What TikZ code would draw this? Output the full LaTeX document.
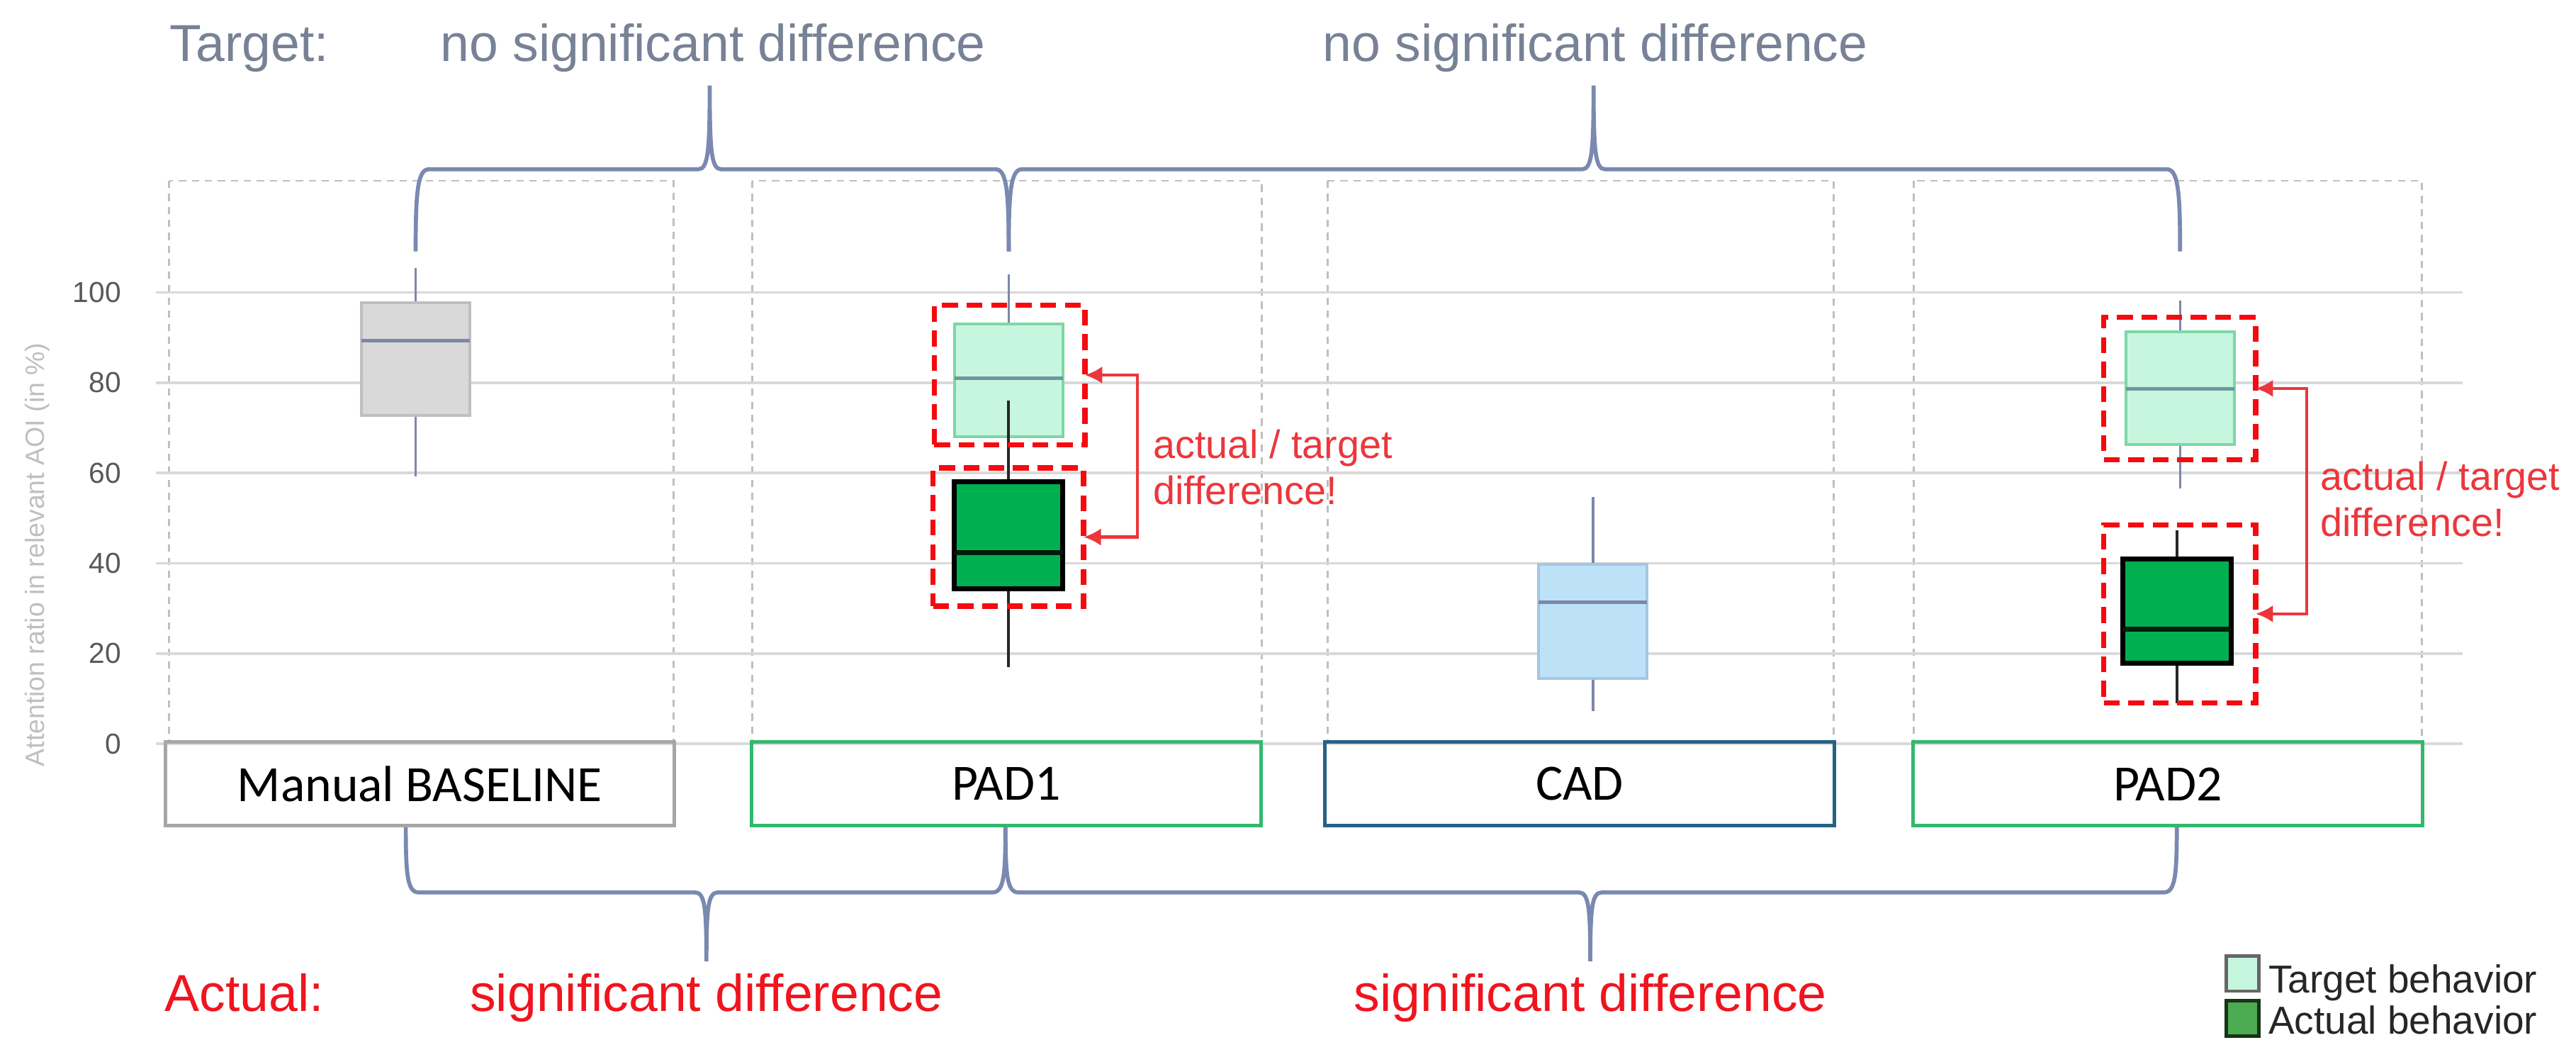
\documentclass[tikz,border=0pt]{standalone}
\usepackage{fontspec}
\setmainfont{Liberation Sans}
\newfontfamily\calibfont{Carlito}
\usetikzlibrary{arrows.meta,positioning}

\definecolor{gridc}{RGB}{217,217,217}
\definecolor{framec}{RGB}{191,191,191}
\definecolor{bracec}{RGB}{122,137,176}
\definecolor{txtc}{RGB}{120,130,150}
\definecolor{sigred}{RGB}{240,20,30}
\definecolor{annred}{RGB}{235,55,60}
\definecolor{dashred}{RGB}{245,10,15}
\definecolor{wskc}{RGB}{125,135,170}
\definecolor{manfill}{RGB}{217,217,217}
\definecolor{mandraw}{RGB}{191,191,191}
\definecolor{tgtfill}{RGB}{198,246,222}
\definecolor{tgtdraw}{RGB}{125,215,165}
\definecolor{tgtmedc}{RGB}{110,150,160}
\definecolor{actfill}{RGB}{0,176,80}
\definecolor{cadfill}{RGB}{189,226,248}
\definecolor{caddraw}{RGB}{165,198,226}
\definecolor{mancat}{RGB}{166,166,166}
\definecolor{padcat}{RGB}{50,185,110}
\definecolor{cadcat}{RGB}{38,98,135}
\definecolor{legact}{RGB}{76,170,80}

\tikzset{
  gridl/.style={draw=gridc,line width=0.9pt},
  colframe/.style={draw=framec,line width=0.7pt,dash pattern=on 2.5pt off 2pt},
  bracel/.style={draw=bracec,line width=1.4pt},
  manbox/.style={fill=manfill,draw=mandraw,line width=1pt},
  manmed/.style={draw=wskc,line width=1.2pt},
  manwsk/.style={draw=wskc,line width=0.9pt},
  tgtbox/.style={fill=tgtfill,draw=tgtdraw,line width=1pt},
  tgtmed/.style={draw=tgtmedc,line width=1.2pt},
  tgtwsk/.style={draw=wskc,line width=0.9pt},
  actbox/.style={fill=actfill,draw=black,line width=1.7pt},
  actmed/.style={draw=black!85!actfill,line width=1.7pt},
  actwsk/.style={draw=black!85,line width=1pt},
  cadbox/.style={fill=cadfill,draw=caddraw,line width=1pt},
  cadmed/.style={draw=wskc,line width=1.2pt},
  cadwsk/.style={draw=wskc,line width=0.9pt},
  diffbox/.style={draw=dashred,line width=1.8pt,dash pattern=on 5.5pt off 3pt,
    inner sep=0pt,outer sep=0pt},
  diffarr/.style={draw=annred,line width=1pt,
    {Latex[length=6pt,width=6pt]}-{Latex[length=6pt,width=6pt]}},
  anntxt/.style={text=annred,font=\fontsize{13.7}{16}\selectfont,inner sep=0pt,align=left},
  catbox/.style={draw,line width=1.2pt,minimum width=6.2cm,minimum height=1.02cm,
    inner sep=0pt,font=\calibfont\fontsize{17.6}{20}\selectfont},
  bigtxt/.style={font=\fontsize{18}{21}\selectfont,inner sep=0pt},
  ticklab/.style={text=black!65,font=\fontsize{10}{12}\selectfont,inner sep=0pt,anchor=east},
  legsq/.style={line width=1.2pt,minimum width=0.4cm,minimum height=0.43cm,inner sep=0pt},
  legtxt/.style={text=black!85,font=\fontsize{13.5}{16}\selectfont,inner sep=0pt,anchor=base west}
}

% x, lower whisker, q1, median, q3, upper whisker, style prefix
\newcommand{\bplot}[7]{%
  \draw[#7wsk] (#1,#2) -- (#1,#3) (#1,#5) -- (#1,#6);
  \draw[#7box] (#1-33,#3) rectangle (#1+33,#5);
  \draw[#7med] (#1-33,#4) -- (#1+33,#4);}

\newcommand{\topbrace}[3]{%
  \draw[bracel] (#1,153) .. controls (#1,118) and (#1+1,103) .. (#1+8,103)
    -- (#3-7,103) .. controls (#3-1,103) and (#3,92) .. (#3,52)
    .. controls (#3,92) and (#3+1,103) .. (#3+7,103)
    -- (#2-8,103) .. controls (#2-1,103) and (#2,118) .. (#2,153);}

\newcommand{\lowbrace}[3]{%
  \draw[bracel] (#1,503) .. controls (#1,533) and (#1+1,543) .. (#1+8,543)
    -- (#3-7,543) .. controls (#3-1,543) and (#3,552) .. (#3,585)
    .. controls (#3,552) and (#3+1,543) .. (#3+7,543)
    -- (#2-8,543) .. controls (#2-1,543) and (#2,533) .. (#2,503);}

\begin{document}
\begin{tikzpicture}[x=0.02cm,y=-0.02cm]
  \useasboundingbox (0,0) rectangle (1568,646);

  % columns
  \foreach \a/\b in {103/410,458/768,808/1116,1165/1474}
    \draw[colframe] (\a,110) rectangle (\b,452.5);

  % value axis
  \begin{scope}[shift={(0,452.5)},yscale=-2.745]
    \foreach \v in {0,20,...,100} {
      \draw[gridl] (95,\v) -- (1499,\v);
      \node[ticklab] (tick\v) at (74,\v) {\v};
    }
    \bplot{253}{59.2}{72.8}{89.4}{97.7}{105.5}{man}
    \bplot{614}{68}{68}{81}{93}{104}{tgt}
    \bplot{614}{17}{34.4}{42.4}{58}{76}{act}
    \bplot{969.6}{7.3}{14.4}{31.3}{39.8}{54.7}{cad}
    \bplot{1327}{56.5}{66.3}{78.7}{91.3}{98.2}{tgt}
    \bplot{1325}{8.9}{17.8}{25.4}{41}{47.3}{act}
  \end{scope}

  \node[rotate=90,text=framec,font=\fontsize{9.2}{11}\selectfont,inner sep=0pt]
    (ylabel) at (22.7,337.5) {Attention ratio in relevant AOI (in \%)};

  % braces
  \topbrace{253}{614}{432}
  \topbrace{614}{1327}{970}
  \lowbrace{247}{612}{430}
  \lowbrace{612}{1325}{968}

  % actual / target
  \node[diffbox,minimum width=1.834cm,minimum height=1.7cm] (tgt1) at (614.5,228.2) {};
  \node[diffbox,minimum width=1.832cm,minimum height=1.682cm] (act1) at (613.8,326.75) {};
  \node[diffbox,minimum width=1.85cm,minimum height=1.734cm] (tgt2) at (1326.75,236.35) {};
  \node[diffbox,minimum width=1.85cm,minimum height=2.168cm] (act2) at (1326.75,373.5) {};
  \draw[diffarr] (tgt1.east) -- ++(32,0) |- (act1.east);
  \draw[diffarr] (tgt2.east) -- ++(31,0) |- (act2.east);
  \node[anntxt,anchor=base west] (ann1) at (701.5,307) {actual / target\\difference!};
  \node[anntxt,anchor=base west] (ann2) at (1412,326.5) {actual / target\\difference!};

  % categories
  \node[catbox,draw=mancat] (manual) at (255.5,477) {Manual BASELINE};
  \node[catbox,draw=padcat] (pad1) at (612.5,477) {PAD1};
  \node[catbox,draw=cadcat] (cad) at (961.5,477) {CAD};
  \node[catbox,draw=padcat] (pad2) at (1319.5,477) {PAD2};

  % headings
  \node[bigtxt,text=txtc,anchor=base west] (target) at (103,37.4) {Target:};
  \node[bigtxt,text=txtc,anchor=base] (nosig1) at (434,37.4) {no significant difference};
  \node[bigtxt,text=txtc,anchor=base] (nosig2) at (971,37.4) {no significant difference};
  \node[bigtxt,text=sigred,anchor=base west] (actual) at (100,615.5) {Actual:};
  \node[bigtxt,text=sigred,anchor=base] (sig1) at (430,615.5) {significant difference};
  \node[bigtxt,text=sigred,anchor=base] (sig2) at (968,615.5) {significant difference};

  % legend
  \node[legsq,fill=tgtfill,draw=black!60] (legt) at (1365,592.3) {};
  \node[legsq,fill=legact,draw=black!70!legact] (lega) at (1365,619.7) {};
  \node[legtxt] (legttxt) at (1380.5,604) {Target behavior};
  \node[legtxt] (legatxt) at (1380.5,629) {Actual behavior};
\end{tikzpicture}
\end{document}
